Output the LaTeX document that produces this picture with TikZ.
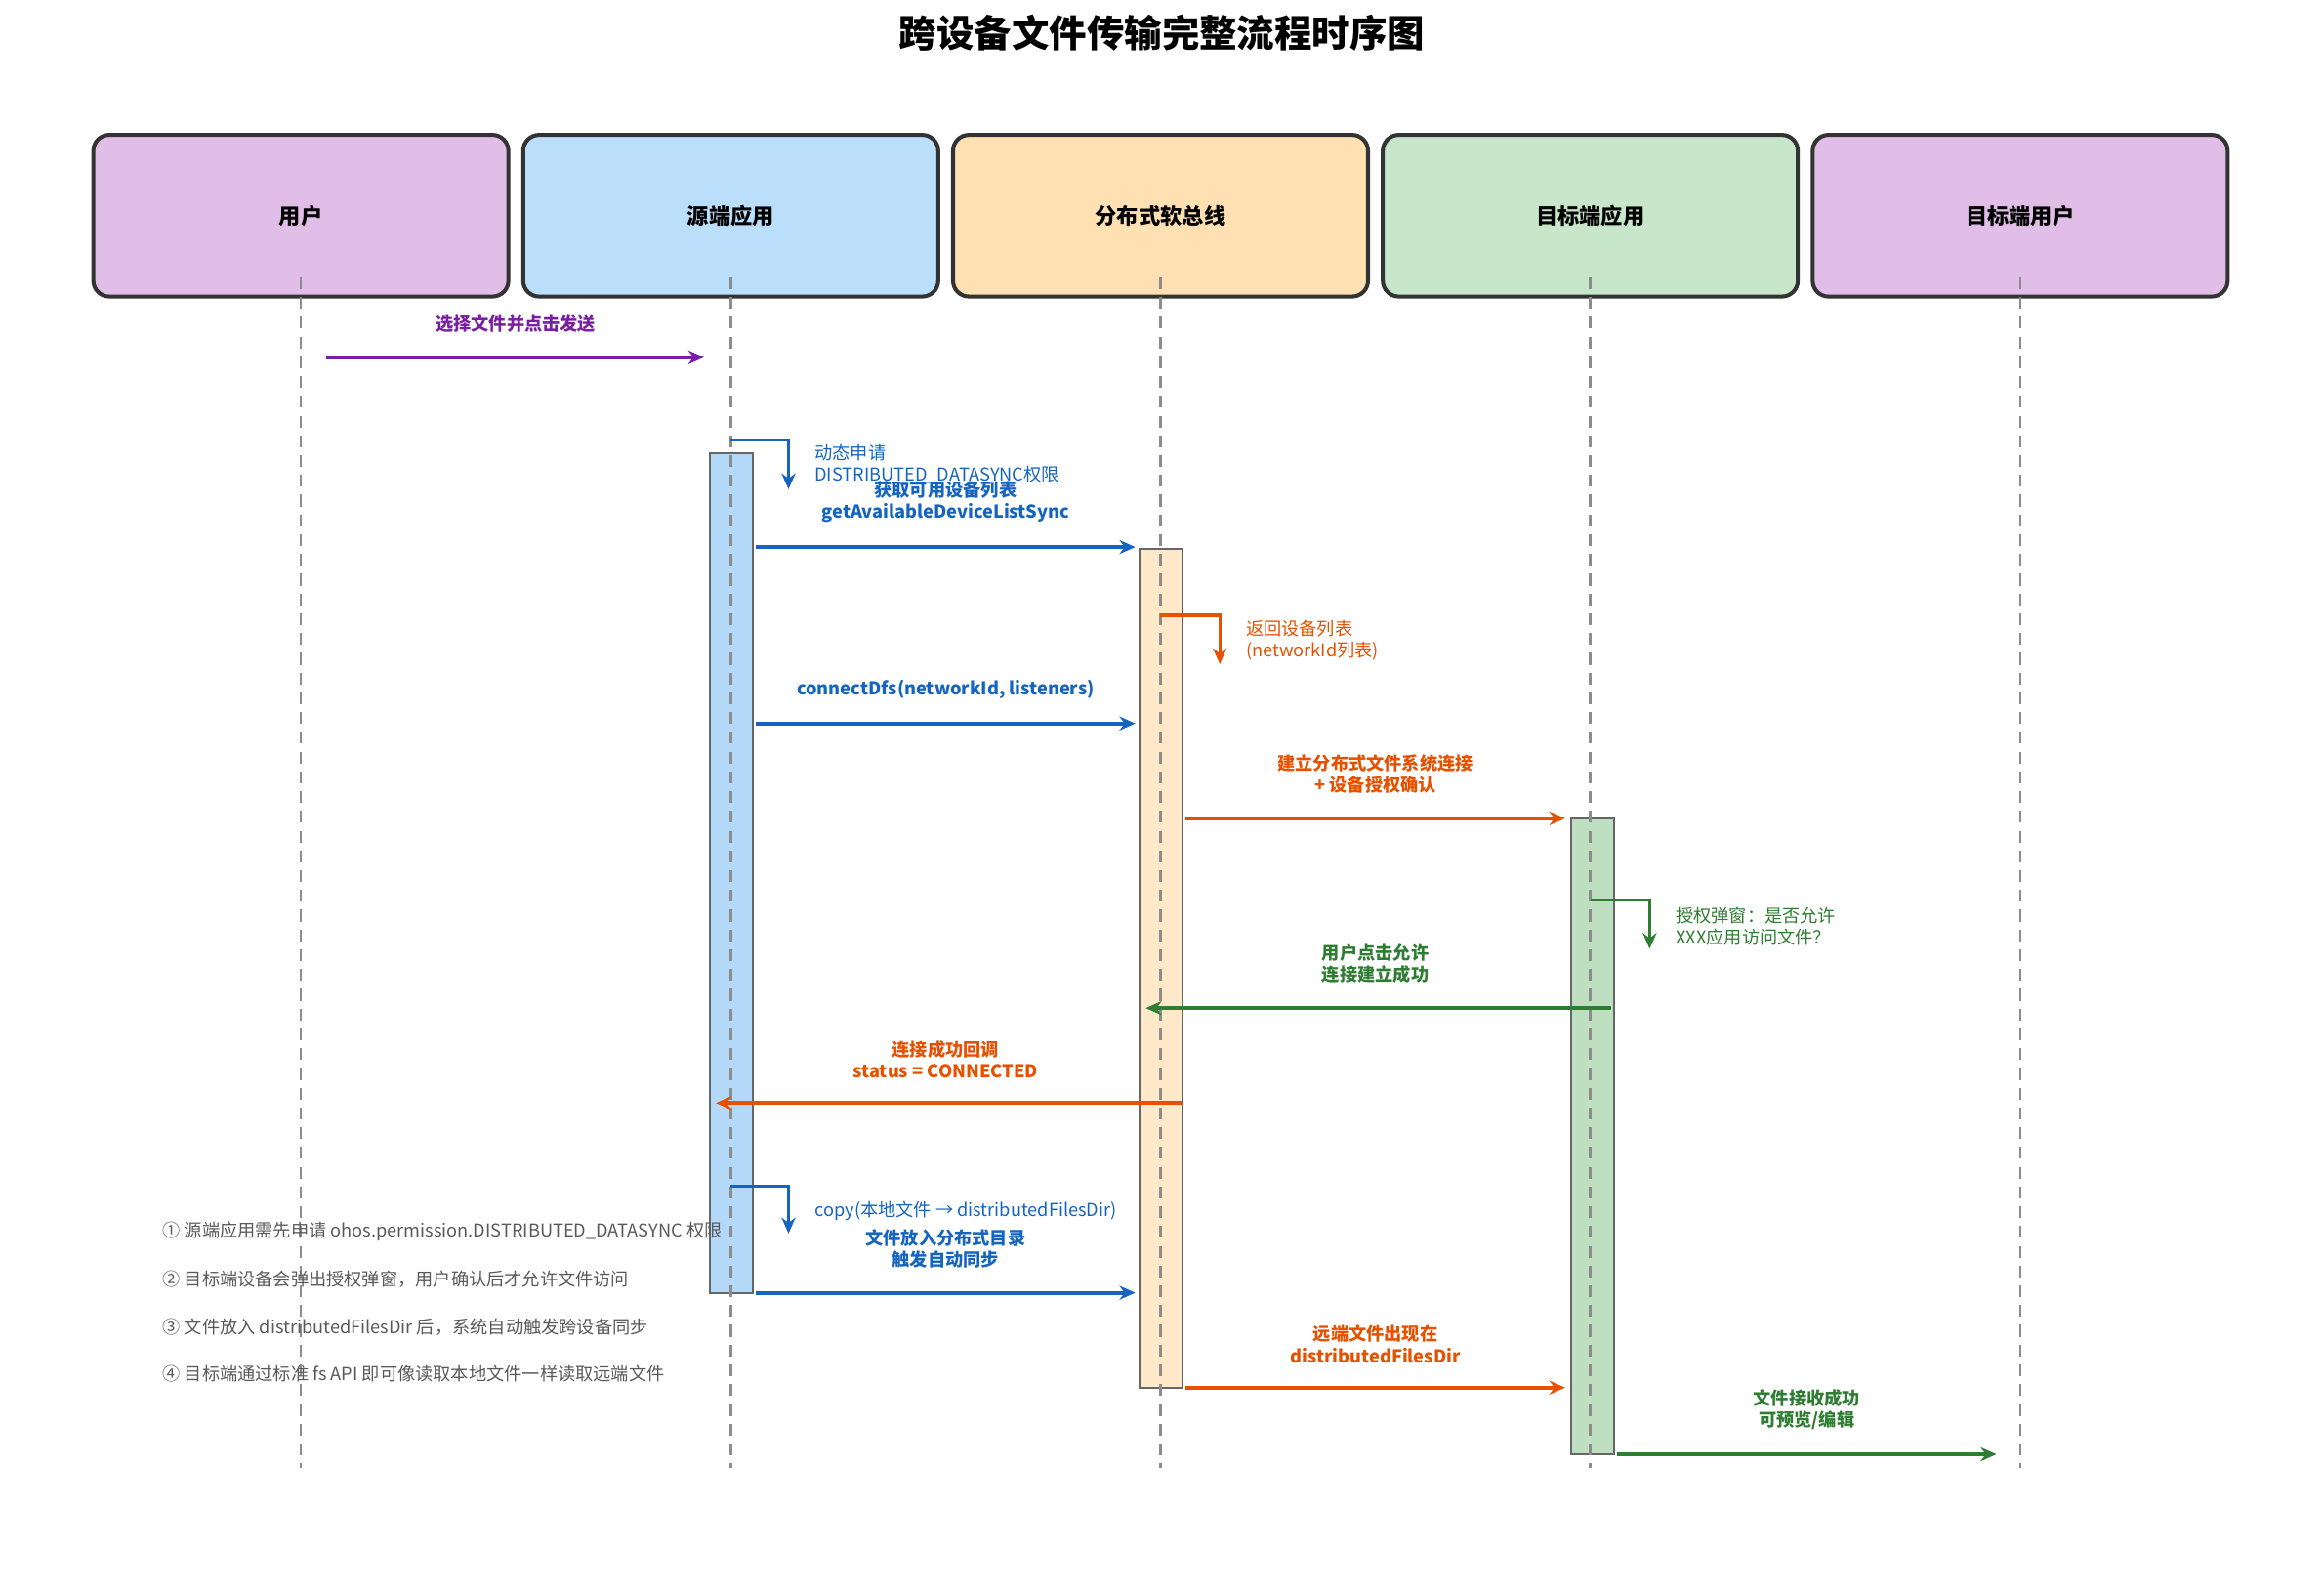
\documentclass[tikz,border=0pt]{standalone}
\usepackage{fontspec}
\setmainfont{Noto Sans CJK SC}
\usetikzlibrary{arrows.meta}
\definecolor{cPur}{HTML}{7B1FA2}
\definecolor{cBlue}{HTML}{1565C0}
\definecolor{cOr}{HTML}{E65100}
\definecolor{cGr}{HTML}{2E7D32}
\definecolor{hPur}{HTML}{E1BEE7}
\definecolor{hBlue}{HTML}{BBDEFB}
\definecolor{hOr}{HTML}{FFE0B2}
\definecolor{hGr}{HTML}{C8E6C9}
\definecolor{aBlue}{HTML}{B3D8F8}
\definecolor{aOr}{HTML}{FFE9C9}
\definecolor{aGr}{HTML}{BFE0C0}
\tikzset{
 hdr/.style={draw=black!80,line width=2pt,rounded corners=8pt,minimum width=210pt,minimum height=81.75pt,font=\fontsize{11}{13}\selectfont\bfseries},
 life/.style={draw=black!45,line width=1.3pt,dash pattern=on 6pt off 4pt},
 act/.style={draw=black!60,line width=1pt},
 msg/.style={line width=2pt,-{Stealth[length=8pt,width=7pt]}},
 lbl/.style={font=\fontsize{9}{11}\selectfont\bfseries,align=center,anchor=south},
 slbl/.style={font=\fontsize{9}{10.5}\selectfont,align=left,anchor=west},
 note/.style={font=\fontsize{9}{10}\selectfont,text=black!65,anchor=west},
}
\begin{document}
\begin{tikzpicture}[x=0.75pt,y=-0.75pt]
\useasboundingbox (0,0) rectangle (1568,1074);
\node[font=\fontsize{19}{22}\selectfont\bfseries] (title) at (784,22) {跨设备文件传输完整流程时序图};
\node[hdr,fill=hPur] (h1) at (203,145.5) {用户};
\node[hdr,fill=hBlue] (h2) at (493,145.5) {源端应用};
\node[hdr,fill=hOr] (h3) at (783,145.5) {分布式软总线};
\node[hdr,fill=hGr] (h4) at (1073,145.5) {目标端应用};
\node[hdr,fill=hPur] (h5) at (1363,145.5) {目标端用户};
% activations
\draw[act,fill=aBlue] (479,306) rectangle (508,872);
\draw[act,fill=aOr] (769,370) rectangle (798,936);
\draw[act,fill=aGr] (1060,552) rectangle (1089,981);
% lifelines
\foreach \x/\n in {203/1,493/2,783/3,1073/4,1363/5}{
 \coordinate (lt\n) at (\x,187); \coordinate (lb\n) at (\x,990);
 \draw[life] (lt\n) -- (lb\n);}
% msg 1
\coordinate (a1) at (220,241); \coordinate (b1) at (475,241);
\draw[msg,cPur] (a1) -- (b1);
\node[lbl,text=cPur] (m1) at (348,229) {选择文件并点击发送};
% self 1
\coordinate (s1a) at (493,297); \coordinate (s1b) at (532,297); \coordinate (s1c) at (532,330);
\draw[msg,cBlue,line width=1.6pt] (s1a) -- (s1b) -- (s1c);
\node[slbl,text=cBlue] (sl1) at (545,313) {动态申请\\DISTRIBUTED\_DATASYNC权限};
% msg 2
\coordinate (a2) at (510,369); \coordinate (b2) at (766,369);
\draw[msg,cBlue] (a2) -- (b2);
\node[lbl,text=cBlue] (m2) at (638,357) {获取可用设备列表\\getAvailableDeviceListSync};
% self 2
\coordinate (s2a) at (783,415); \coordinate (s2b) at (823,415); \coordinate (s2c) at (823,448);
\draw[msg,cOr,line width=1.6pt] (s2a) -- (s2b) -- (s2c);
\node[slbl,text=cOr] (sl2) at (836,432) {返回设备列表\\(networkId列表)};
% msg 3
\coordinate (a3) at (510,488); \coordinate (b3) at (766,488);
\draw[msg,cBlue] (a3) -- (b3);
\node[lbl,text=cBlue] (m3) at (638,476) {connectDfs(networkId, listeners)};
% msg 4
\coordinate (a4) at (800,552); \coordinate (b4) at (1056,552);
\draw[msg,cOr] (a4) -- (b4);
\node[lbl,text=cOr] (m4) at (928,540) {建立分布式文件系统连接\\+ 设备授权确认};
% self 3
\coordinate (s3a) at (1073,607); \coordinate (s3b) at (1113,607); \coordinate (s3c) at (1113,640);
\draw[msg,cGr,line width=1.6pt] (s3a) -- (s3b) -- (s3c);
\node[slbl,text=cGr] (sl3) at (1126,625) {授权弹窗：是否允许\\XXX应用访问文件？};
% msg 5
\coordinate (a5) at (1087,680); \coordinate (b5) at (773,680);
\draw[msg,cGr] (a5) -- (b5);
\node[lbl,text=cGr] (m5) at (928,668) {用户点击允许\\连接建立成功};
% msg 6
\coordinate (a6) at (797,744); \coordinate (b6) at (483,744);
\draw[msg,cOr] (a6) -- (b6);
\node[lbl,text=cOr] (m6) at (638,732) {连接成功回调\\status = CONNECTED};
% self 4
\coordinate (s4a) at (493,800); \coordinate (s4b) at (532,800); \coordinate (s4c) at (532,832);
\draw[msg,cBlue,line width=1.6pt] (s4a) -- (s4b) -- (s4c);
\node[slbl,text=cBlue] (sl4) at (545,817) {copy(本地文件 → distributedFilesDir)};
% msg 7
\coordinate (a7) at (510,872); \coordinate (b7) at (766,872);
\draw[msg,cBlue] (a7) -- (b7);
\node[lbl,text=cBlue] (m7) at (638,860) {文件放入分布式目录\\触发自动同步};
% msg 8
\coordinate (a8) at (800,936); \coordinate (b8) at (1056,936);
\draw[msg,cOr] (a8) -- (b8);
\node[lbl,text=cOr] (m8) at (928,924) {远端文件出现在\\distributedFilesDir};
% msg 9
\coordinate (a9) at (1091,981); \coordinate (b9) at (1347,981);
\draw[msg,cGr] (a9) -- (b9);
\node[lbl,text=cGr] (m9) at (1219,969) {文件接收成功\\可预览/编辑};
% notes
\node[note] (n1) at (105,831) {① 源端应用需先申请 ohos.permission.DISTRIBUTED\_DATASYNC 权限};
\node[note] (n2) at (105,863) {② 目标端设备会弹出授权弹窗，用户确认后才允许文件访问};
\node[note] (n3) at (105,895) {③ 文件放入 distributedFilesDir 后，系统自动触发跨设备同步};
\node[note] (n4) at (105,927) {④ 目标端通过标准 fs API 即可像读取本地文件一样读取远端文件};
\end{tikzpicture}
\end{document}
